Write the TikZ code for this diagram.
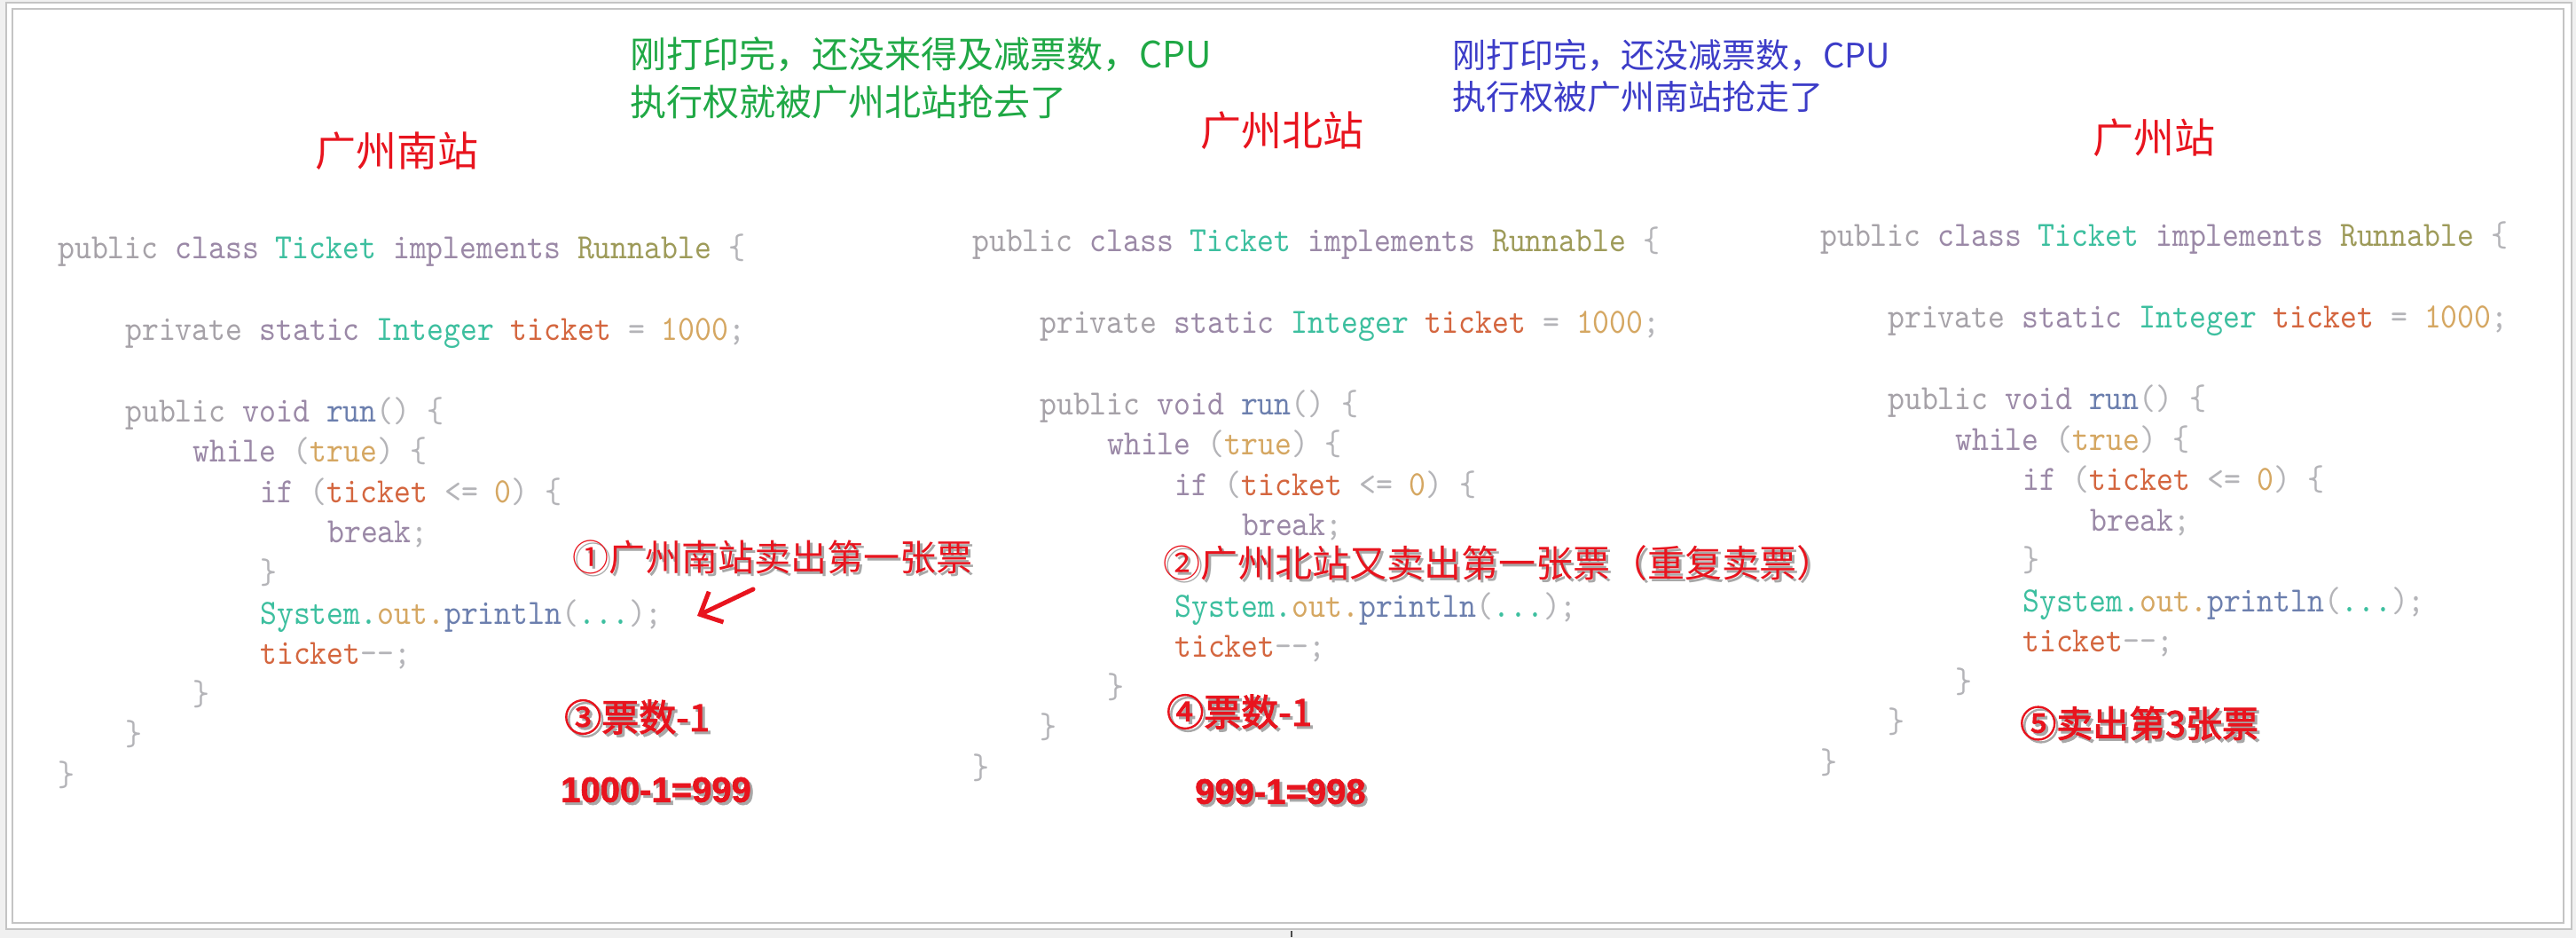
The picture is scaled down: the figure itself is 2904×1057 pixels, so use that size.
\documentclass[tikz,border=0pt]{standalone}
\usepackage{fontspec}
\usetikzlibrary{arrows.meta}
\newfontfamily\codefont[FakeStretch=0.9]{lmmono10-regular.otf}
\newfontfamily\cjkfont{Noto Sans CJK SC}
\newfontfamily\cjkboldfont[FakeBold=2.5]{Noto Sans CJK SC}
\newfontfamily\numfont[FakeBold=1.5]{Liberation Sans}
\definecolor{ckw}{HTML}{A6A2A8}
\definecolor{cpur}{HTML}{9B89A7}
\definecolor{cteal}{HTML}{3DBF9F}
\definecolor{colive}{HTML}{9E9B5A}
\definecolor{corange}{HTML}{D4663F}
\definecolor{ctan}{HTML}{D5A762}
\definecolor{cbluegray}{HTML}{6C7FAE}
\definecolor{cpunct}{HTML}{B4B4B8}
\definecolor{cred}{HTML}{E8141E}
\definecolor{cgreen}{HTML}{1FA845}
\definecolor{cblu}{HTML}{3C3CC8}
\definecolor{cshadow}{HTML}{A8A8A8}
\definecolor{bggray}{HTML}{F0F0F0}
\definecolor{framegray}{HTML}{C4C4C4}
\newcommand\tkpub[1]{\textcolor{ckw}{#1}}
\newcommand\tkpur[1]{\textcolor{cpur}{#1}}
\newcommand\tkteal[1]{\textcolor{cteal}{#1}}
\newcommand\tkolive[1]{\textcolor{colive}{#1}}
\newcommand\tkor[1]{\textcolor{corange}{#1}}
\newcommand\tktan[1]{\textcolor{ctan}{#1}}
\newcommand\tkbl[1]{\textcolor{cbluegray}{#1}}
\newcommand\tkpun[1]{\textcolor{cpunct}{#1}}
\newcommand\codeLA{\tkpub{public} \tkpur{class} \tkteal{Ticket} \tkpur{implements} \tkolive{Runnable} \tkpun{\{}}
\newcommand\codeLB{\tkpub{private} \tkpur{static} \tkteal{Integer} \tkor{ticket} \tkpun{=} \tktan{1000}\tkpun{;}}
\newcommand\codeLC{\tkpub{public} \tkpur{void} \tkbl{run}\tkpun{()} \tkpun{\{}}
\newcommand\codeLD{\tkpur{while} \tkpun{(}\tktan{true}\tkpun{)} \tkpun{\{}}
\newcommand\codeLE{\tkpur{if} \tkpun{(}\tkor{ticket} \tkpun{<=} \tktan{0}\tkpun{)} \tkpun{\{}}
\newcommand\codeLF{\tkpur{break}\tkpun{;}}
\newcommand\codeLG{\tkpun{\}}}
\newcommand\codeLH{\tkteal{System.}\tktan{out.}\tkbl{println}\tkpun{(}\tkteal{...}\tkpun{);}}
\newcommand\codeLI{\tkor{ticket}\tkpun{-\kern0pt-;}}
\tikzset{
  code/.style={anchor=base west, inner sep=0pt, font=\codefont\fontsize{40}{48}\selectfont},
  title/.style={text=cred, inner sep=0pt, font=\cjkfont\fontsize{46}{55}\selectfont},
  greennote/.style={anchor=west, inner sep=0pt, text=cgreen, font=\cjkfont\fontsize{41}{50}\selectfont},
  bluenote/.style={anchor=west, inner sep=0pt, text=cblu, font=\cjkfont\fontsize{38}{46}\selectfont},
  ann/.style={anchor=west, inner sep=0pt, text=cred},
  annsh/.style={anchor=west, inner sep=0pt, text=cshadow},
  annthin/.style={font=\cjkfont\fontsize{41}{50}\selectfont},
  annbold/.style={font=\cjkboldfont\fontsize{42}{50}\selectfont},
  annnum/.style={font=\numfont\bfseries\fontsize{40}{48}\selectfont},
  redarrow/.style={draw=cred, line width=5pt, line cap=round,
    -{Straight Barb[length=20pt, width=38pt, line width=5pt]}}
}
\begin{document}
\begin{tikzpicture}[x=1pt, y=-1pt]
\useasboundingbox (0,0) rectangle (2904,1057);
% page frame
\fill[bggray] (0,0) rectangle (2904,1057);
\draw[framegray, fill=white, line width=1.5pt] (7,3) rectangle (2899,1047);
\draw[framegray, line width=1.5pt] (14,10) rectangle (2890,1040);
\draw[black!70, line width=1.5pt] (1456,1049) -- (1456,1056);

% notes at top
\node[greennote] (g1) at (710,61) {刚打印完，还没来得及减票数，CPU};
\node[greennote] (g2) at (710,115) {执行权就被广州北站抢去了};
\node[bluenote] (b1) at (1637,62) {刚打印完，还没减票数，CPU};
\node[bluenote] (b2) at (1637,109) {执行权被广州南站抢走了};

% titles
\node[title] (t1) at (447,170) {广州南站};
\node[title] (t2) at (1445,147) {广州北站};
\node[title] (t3) at (2428,155) {广州站};

% column 1
\node[code] (a01) at (65,291) {\codeLA};
\node[code] (a02) at (141,383) {\codeLB};
\node[code] (a03) at (141,475) {\codeLC};
\node[code] (a04) at (217,520.5) {\codeLD};
\node[code] (a05) at (293,566) {\codeLE};
\node[code] (a06) at (369,611.5) {\codeLF};
\node[code] (a07) at (293,657) {\codeLG};
\node[code] (a08) at (293,703) {\codeLH};
\node[code] (a09) at (293,748.5) {\codeLI};
\node[code] (a10) at (217,794) {\codeLG};
\node[code] (a11) at (141,839.5) {\codeLG};
\node[code] (a12) at (65,885) {\codeLG};

% column 2
\node[code] (b01) at (1096,283) {\codeLA};
\node[code] (b02) at (1172,375) {\codeLB};
\node[code] (b03) at (1172,467) {\codeLC};
\node[code] (b04) at (1248,512.5) {\codeLD};
\node[code] (b05) at (1324,558) {\codeLE};
\node[code] (b06) at (1400,603.5) {\codeLF};
\node[code] (b08) at (1324,695) {\codeLH};
\node[code] (b09) at (1324,740.5) {\codeLI};
\node[code] (b10) at (1248,786) {\codeLG};
\node[code] (b11) at (1172,831.5) {\codeLG};
\node[code] (b12) at (1096,877) {\codeLG};

% column 3
\node[code] (c01) at (2052,277) {\codeLA};
\node[code] (c02) at (2128,369) {\codeLB};
\node[code] (c03) at (2128,461.5) {\codeLC};
\node[code] (c04) at (2204,507) {\codeLD};
\node[code] (c05) at (2280,552.5) {\codeLE};
\node[code] (c06) at (2356,598) {\codeLF};
\node[code] (c07) at (2280,643.5) {\codeLG};
\node[code] (c08) at (2280,689) {\codeLH};
\node[code] (c09) at (2280,734.5) {\codeLI};
\node[code] (c10) at (2204,780) {\codeLG};
\node[code] (c11) at (2128,825.5) {\codeLG};
\node[code] (c12) at (2052,871) {\codeLG};

% annotations (shadow first, then red)
\node[annsh, annthin] (n1s) at (648,631) {①广州南站卖出第一张票};
\node[ann, annthin] (n1) at (645,628) {①广州南站卖出第一张票};
\node[annsh, annthin, font=\cjkfont\fontsize{42}{50}\selectfont] (n2s) at (1314,638) {②广州北站又卖出第一张票（重复卖票）};
\node[ann, annthin, font=\cjkfont\fontsize{42}{50}\selectfont] (n2) at (1311,635) {②广州北站又卖出第一张票（重复卖票）};
\node[annsh, annbold] (n3s) at (639,811) {③票数-1};
\node[ann, annbold] (n3) at (636,808) {③票数-1};
\node[annsh, annbold] (n4s) at (1318,805) {④票数-1};
\node[ann, annbold] (n4) at (1315,802) {④票数-1};
\node[annsh, annbold, font=\cjkboldfont\fontsize{41}{50}\selectfont] (n5s) at (2280,818) {⑤卖出第3张票};
\node[ann, annbold, font=\cjkboldfont\fontsize{41}{50}\selectfont] (n5) at (2277,815) {⑤卖出第3张票};
\node[annsh, annnum] (m1s) at (635,893) {1000-1=999};
\node[ann, annnum] (m1) at (632,890) {1000-1=999};
\node[annsh, annnum] (m2s) at (1350,895) {999-1=998};
\node[ann, annnum] (m2) at (1347,892) {999-1=998};

% arrow
\coordinate (arrtail) at (849,664);
\coordinate (arrhead) at (786,694);
\draw[redarrow] (arrtail) -- (arrhead);
\end{tikzpicture}
\end{document}
